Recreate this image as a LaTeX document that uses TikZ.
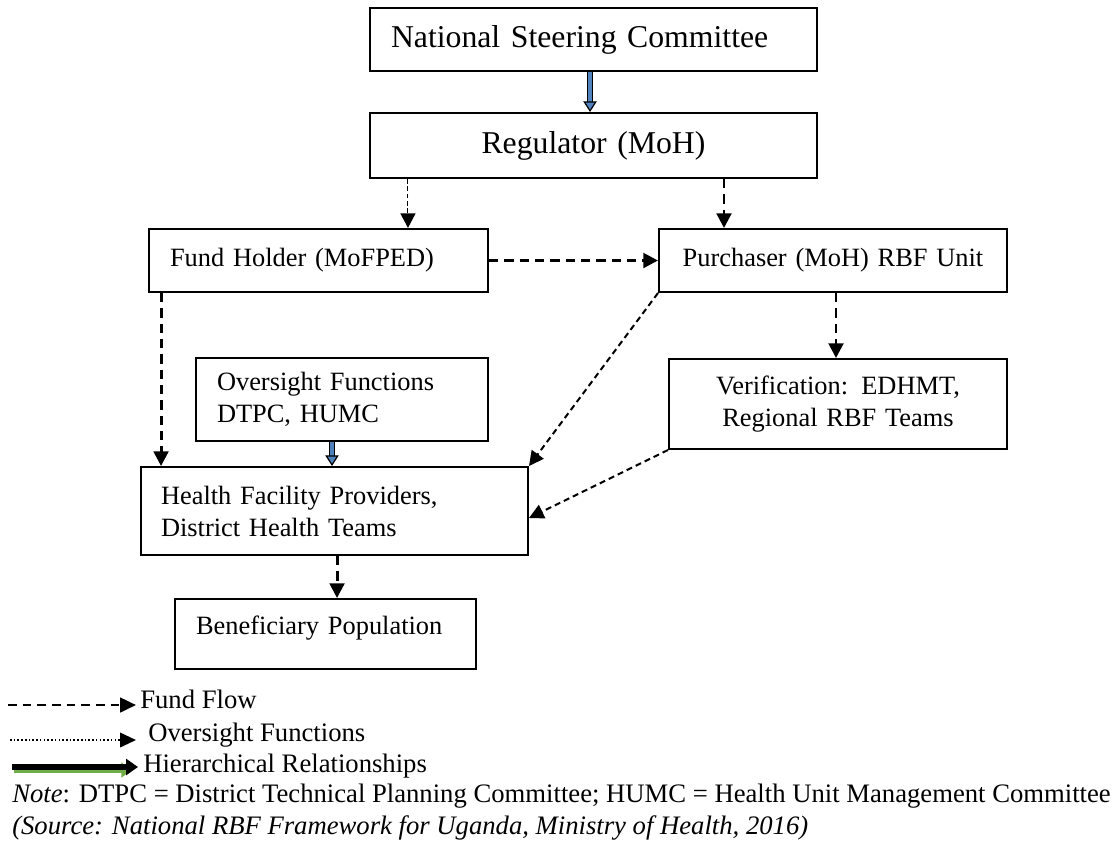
\documentclass[tikz,border=0pt]{standalone}
\usepackage{fontspec}
\setmainfont{Liberation Serif}
\usetikzlibrary{arrows.meta}
\definecolor{hblue}{HTML}{4F81BD}
\definecolor{hgreen}{HTML}{70AD47}
\begin{document}
\begin{tikzpicture}[x=0.75pt,y=-0.75pt,
  box/.style={draw, line width=1.5pt, inner sep=0pt, font=\fontsize{19.8}{24}\selectfont},
  bigbox/.style={box, font=\fontsize{23.8}{28}\selectfont},
  fund/.style={line width=2.2pt, dash pattern=on 7pt off 4.5pt, -{Triangle[length=11pt,width=11pt]}},
  fundthin/.style={line width=1.5pt, dash pattern=on 4.5pt off 3pt, -{Triangle[length=11pt,width=11pt]}},
  over/.style={line width=2pt, dash pattern=on 3.5pt off 2pt, -{Triangle[length=11pt,width=11pt]},
    postaction={draw=white, line width=0.6pt, -, shorten >=11pt}},
  hier/.style={line width=0.9pt, double=hblue, double distance=2.8pt, -{Triangle[length=8pt,width=10pt,fill=hblue]}},
  legtext/.style={inner sep=0pt, anchor=base west, font=\fontsize{20}{24}\selectfont}]
\useasboundingbox (0,0) rectangle (1113,844);

% boxes
\node[bigbox, anchor=north west, minimum width=335.25pt, minimum height=47.25pt, text width=303.75pt, align=left] (nsc) at (369,7) {National Steering Committee};
\node[bigbox, anchor=north west, minimum width=335.25pt, minimum height=48.75pt, text width=303.75pt, align=center] (reg) at (369,112) {Regulator (MoH)};
\node[box, anchor=north west, minimum width=254.25pt, minimum height=47.25pt, text width=222.75pt, align=left] (fh) at (148,228) {Fund Holder (MoFPED)};
\node[box, anchor=north west, minimum width=261pt, minimum height=47.25pt, text width=230pt, align=center] (pur) at (658,228) {Purchaser (MoH) RBF Unit};
\node[box, anchor=north west, minimum width=219pt, minimum height=62.25pt, text width=187.5pt, align=left] (ov) at (195,357) {Oversight Functions\\DTPC, HUMC};
\node[box, anchor=north west, minimum width=253.5pt, minimum height=67.5pt, text width=225pt, align=center] (ver) at (668,358) {Verification: EDHMT,\\Regional RBF Teams};
\node[box, anchor=north west, minimum width=290.25pt, minimum height=66pt, text width=260.25pt, align=left] (hfp) at (140,466) {Health Facility Providers,\\District Health Teams};
\node[box, anchor=north west, minimum width=225.75pt, minimum height=52.5pt, text width=194.25pt, align=left, text depth=13.5pt] (ben) at (174,598) {Beneficiary Population};

% connectors
\draw[hier] ([xshift=-2.6pt]nsc.south) -- ([xshift=-2.6pt]reg.north);
\draw[over] ([xshift=67.1pt]fh.north |- reg.south) -- ([xshift=67.1pt]fh.north);
\draw[fund] ([xshift=-81.75pt]pur.north |- reg.south) -- ([xshift=-81.75pt]pur.north);
\draw[fund] (fh.east) -- (fh.east -| pur.west);
\draw[fund] ([xshift=-118.1pt]fh.south) -- ([xshift=-118.1pt]fh.south |- hfp.north);
\draw[fundthin] (pur.south west) -- (hfp.north east);
\draw[fund] ([xshift=2.25pt]pur.south) -- ([xshift=2.25pt]pur.south |- ver.north);
\draw[hier] ([xshift=-7.5pt]ov.south) -- ([xshift=-7.5pt]ov.south |- hfp.north);
\draw[fundthin] (ver.south west) -- ([yshift=-5.25pt]hfp.east);
\draw[fund] ([xshift=1.9pt]hfp.south) -- ([xshift=1.9pt]hfp.south |- ben.north);

% legend
\coordinate (ffa) at (8,705);
\coordinate (ffb) at (136,705);
\draw[line width=2pt, dash pattern=on 6.5pt off 4.5pt, -{Triangle[length=12pt,width=11pt]}] (ffa) -- (ffb);
\node[legtext] (fflab) at (140,708) {Fund Flow};

\coordinate (ofa) at (10,740);
\coordinate (ofb) at (136,740);
\draw[line width=1.3pt, dash pattern=on 1.2pt off 1.6pt, -{Triangle[length=12pt,width=11pt]}] (ofa) -- (ofb);
\node[legtext] (oflab) at (148,741) {Oversight Functions};

\coordinate (hga) at (14,770);
\coordinate (hgb) at (132,770);
\coordinate (hka) at (12,767);
\coordinate (hkb) at (138,767);
\draw[hgreen, line width=4.5pt, -{Triangle[length=8pt,width=11pt]}] (hga) -- (hgb);
\draw[black, line width=5pt, -{Triangle[length=9pt,width=12pt]}] (hka) -- (hkb);
\node[legtext] (hklab) at (143,772) {Hierarchical Relationships};

\node[legtext] (note) at (12,802) {\textit{Note}: DTPC = District Technical Planning Committee; HUMC = Health Unit Management Committee};
\node[legtext] (src) at (12,834) {\textit{(Source: National RBF Framework for Uganda, Ministry of Health, 2016)}};
\end{tikzpicture}
\end{document}
